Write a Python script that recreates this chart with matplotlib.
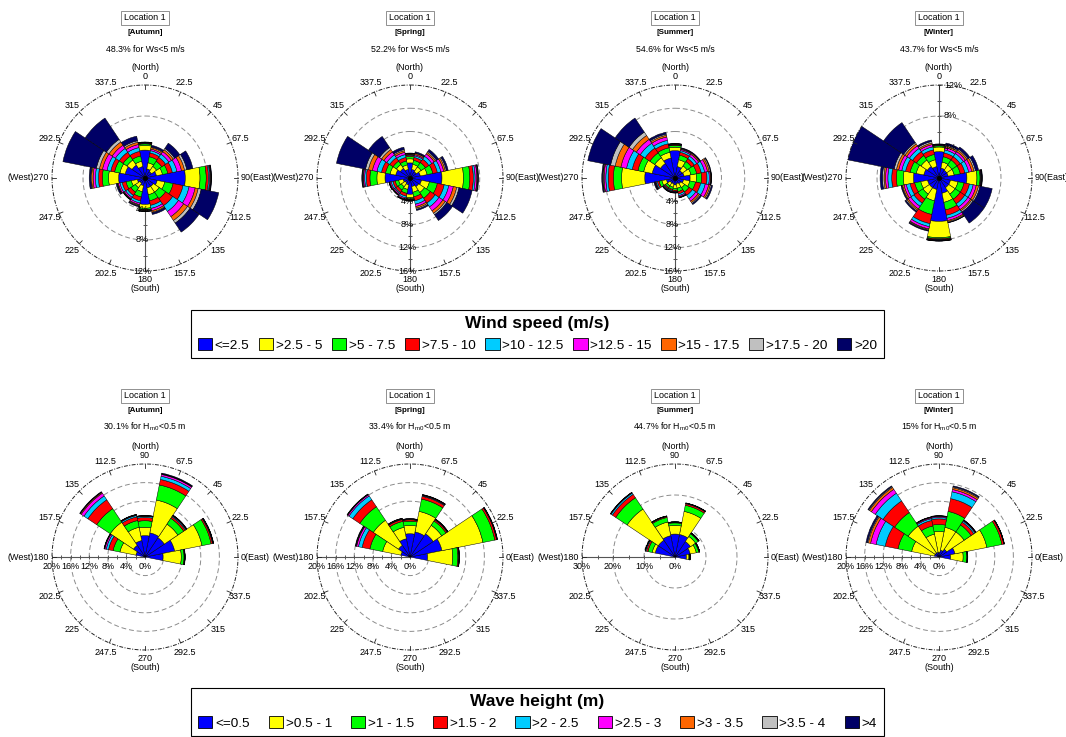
import numpy as np
import matplotlib
matplotlib.use("Agg")
import matplotlib.pyplot as plt
from matplotlib.patches import Patch
from matplotlib.transforms import offset_copy

plt.rcParams["font.family"] = ["Liberation Sans", "DejaVu Sans"]
plt.rcParams["mathtext.fontset"] = "custom"
plt.rcParams["mathtext.rm"] = "Liberation Sans"
plt.rcParams["mathtext.it"] = "Liberation Sans:italic"
plt.rcParams["mathtext.bf"] = "Liberation Sans:bold"

FIG_W, FIG_H = 1066, 737

# ---------------------------------------------------------------- data
LOCATION = "Location 1"
SEASONS = ["Autumn", "Spring", "Summer", "Winter"]

SPEED_CLASSES = ["<=2.5", ">2.5 - 5", ">5 - 7.5", ">7.5 - 10", ">10 - 12.5",
                 ">12.5 - 15", ">15 - 17.5", ">17.5 - 20", ">20"]
HEIGHT_CLASSES = ["<=0.5", ">0.5 - 1", ">1 - 1.5", ">1.5 - 2", ">2 - 2.5",
                  ">2.5 - 3", ">3 - 3.5", ">3.5 - 4", ">4"]
CLASS_COLORS = ["#0000FF", "#FFFF00", "#00FF00", "#FF0000", "#00CCFF",
                "#FF00FF", "#FF6600", "#C0C0C0", "#000066"]

WIND_CALM = ["48.3", "52.2", "54.6", "43.7"]      # % of time with Ws < 5 m/s
WAVE_CALM = ["30.1", "33.4", "44.7", "15"]        # % of time with Hm0 < 0.5 m

WIND_DIRECTIONS = [0, 22.5, 45, 67.5, 90, 112.5, 135, 157.5,
                   180, 202.5, 225, 247.5, 270, 292.5, 315, 337.5]
WAVE_DIRECTIONS = [0, 22.5, 45, 67.5, 90, 112.5, 135, 157.5]

# Cumulative frequency (%) per direction; columns follow the class order
WIND_AUTUMN = [
    [3.6, 4.2, 4.4, 4.45, 4.5, 4.55, 4.6, 4.62, 4.65],
    [1.2, 2.0, 2.8, 3.3, 3.6, 3.8, 4.0, 4.1, 4.3],
    [1.0, 1.8, 2.6, 3.2, 3.7, 4.1, 4.4, 4.6, 5.4],
    [1.5, 2.3, 3.0, 3.6, 4.2, 4.8, 5.2, 5.5, 6.3],
    [5.2, 7.1, 7.9, 8.2, 8.35, 8.45, 8.5, 8.55, 8.6],
    [1.6, 2.6, 3.7, 5.0, 5.8, 6.6, 7.0, 7.4, 9.7],
    [1.3, 2.2, 3.2, 4.3, 5.2, 6.0, 6.6, 7.0, 8.4],
    [1.3, 2.2, 3.0, 3.6, 4.0, 4.3, 4.5, 4.6, 4.8],
    [3.4, 3.9, 4.1, 4.15, 4.2, 4.22, 4.25, 4.3, 4.35],
    [1.0, 1.8, 2.5, 3.0, 3.3, 3.5, 3.6, 3.7, 3.8],
    [0.8, 1.5, 2.2, 2.7, 3.0, 3.2, 3.3, 3.35, 3.4],
    [1.0, 1.8, 2.5, 3.0, 3.3, 3.5, 3.6, 3.65, 3.8],
    [3.4, 4.7, 5.5, 6.0, 6.4, 6.7, 6.9, 7.0, 7.2],
    [2.6, 3.3, 4.0, 4.5, 5.0, 5.6, 6.0, 6.4, 10.8],
    [2.0, 2.8, 3.4, 4.0, 4.6, 5.1, 5.6, 6.0, 9.3],
    [1.5, 2.2, 2.9, 3.5, 4.0, 4.4, 4.7, 4.9, 5.5],
]
WIND_SPRING = [
    [2.6, 3.3, 3.7, 3.9, 4.0, 4.1, 4.2, 4.25, 4.3],
    [1.5, 2.4, 3.1, 3.6, 3.9, 4.1, 4.3, 4.4, 4.6],
    [1.3, 2.3, 3.2, 3.9, 4.5, 5.0, 5.3, 5.5, 5.9],
    [1.8, 3.0, 4.0, 4.8, 5.4, 5.9, 6.2, 6.4, 6.7],
    [5.5, 9.2, 10.3, 10.9, 11.2, 11.5, 11.6, 11.7, 11.8],
    [2.0, 3.4, 4.8, 6.0, 6.8, 7.6, 8.2, 8.6, 10.9],
    [1.8, 3.0, 4.2, 5.2, 6.0, 6.8, 7.3, 7.6, 8.8],
    [1.5, 2.5, 3.3, 4.0, 4.6, 5.0, 5.3, 5.5, 5.7],
    [2.8, 3.4, 3.6, 3.7, 3.75, 3.8, 3.85, 3.9, 3.95],
    [1.2, 2.0, 2.7, 3.2, 3.5, 3.7, 3.8, 3.85, 3.9],
    [1.0, 1.8, 2.5, 3.0, 3.2, 3.4, 3.5, 3.55, 3.6],
    [1.2, 2.0, 2.6, 3.0, 3.3, 3.5, 3.6, 3.65, 3.7],
    [4.3, 5.7, 6.9, 7.5, 7.8, 8.0, 8.1, 8.2, 8.3],
    [2.5, 3.5, 4.3, 5.0, 5.8, 6.6, 7.3, 7.8, 12.9],
    [2.0, 2.8, 3.5, 4.2, 4.8, 5.4, 5.9, 6.3, 8.6],
    [1.5, 2.3, 3.0, 3.6, 4.1, 4.5, 4.8, 5.0, 5.4],
]
WIND_SUMMER = [
    [4.7, 5.3, 5.6, 5.7, 5.75, 5.8, 5.85, 5.9, 5.95],
    [2.0, 3.2, 4.0, 4.5, 4.8, 5.0, 5.1, 5.2, 5.3],
    [1.5, 2.5, 3.4, 4.0, 4.5, 4.9, 5.1, 5.2, 5.3],
    [1.6, 2.8, 3.8, 4.6, 5.2, 5.7, 6.0, 6.2, 6.3],
    [2.6, 3.7, 4.6, 5.5, 5.9, 6.1, 6.2, 6.25, 6.3],
    [1.5, 2.6, 3.6, 4.5, 5.3, 5.9, 6.2, 6.4, 6.6],
    [1.2, 2.0, 2.9, 3.6, 4.3, 4.8, 5.1, 5.3, 5.5],
    [1.0, 1.8, 2.4, 2.8, 3.1, 3.3, 3.4, 3.45, 3.5],
    [1.2, 1.8, 2.1, 2.3, 2.4, 2.45, 2.5, 2.55, 2.6],
    [1.0, 1.6, 2.0, 2.2, 2.35, 2.45, 2.5, 2.55, 2.6],
    [1.0, 1.6, 2.0, 2.2, 2.35, 2.45, 2.5, 2.55, 2.6],
    [1.5, 2.3, 2.8, 3.1, 3.3, 3.4, 3.5, 3.55, 3.7],
    [5.2, 9.2, 10.6, 11.5, 11.9, 12.2, 12.35, 12.45, 12.6],
    [4.0, 5.5, 6.5, 7.5, 8.5, 9.5, 10.5, 11.3, 15.3],
    [3.0, 4.2, 5.2, 6.2, 7.2, 8.0, 8.8, 9.5, 12.4],
    [3.5, 4.5, 5.3, 6.0, 6.6, 7.2, 7.5, 7.7, 8.0],
]
WIND_WINTER = [
    [3.4, 4.0, 4.15, 4.2, 4.25, 4.3, 4.32, 4.35, 4.4],
    [1.3, 2.1, 2.8, 3.3, 3.7, 4.0, 4.2, 4.35, 4.6],
    [1.2, 2.0, 2.8, 3.3, 3.8, 4.1, 4.35, 4.5, 4.8],
    [1.2, 2.0, 2.8, 3.4, 3.9, 4.3, 4.6, 4.8, 5.2],
    [3.6, 4.9, 5.3, 5.4, 5.45, 5.5, 5.52, 5.55, 5.6],
    [1.5, 2.5, 3.3, 4.0, 4.5, 4.9, 5.2, 5.4, 7.0],
    [1.5, 2.5, 3.3, 4.0, 4.5, 4.9, 5.1, 5.3, 7.0],
    [2.0, 3.2, 4.2, 4.9, 5.3, 5.6, 5.75, 5.85, 5.9],
    [5.6, 7.7, 7.85, 7.95, 8.0, 8.05, 8.1, 8.12, 8.15],
    [1.5, 3.0, 4.8, 6.0, 6.4, 6.7, 6.8, 6.9, 7.0],
    [1.5, 2.5, 3.3, 3.9, 4.4, 4.8, 5.0, 5.15, 5.3],
    [1.5, 2.4, 3.2, 3.8, 4.3, 4.6, 4.8, 4.9, 5.0],
    [3.3, 4.6, 5.5, 6.1, 6.6, 6.9, 7.1, 7.3, 7.6],
    [2.0, 3.0, 3.8, 4.4, 4.9, 5.3, 5.6, 5.9, 12.0],
    [1.8, 2.8, 3.5, 4.1, 4.6, 5.0, 5.3, 5.5, 8.6],
    [1.5, 2.4, 3.1, 3.7, 4.1, 4.4, 4.6, 4.8, 5.0],
]

WAVE_AUTUMN = [
    [3.9, 7.8, 8.4, 8.5, 8.55, 8.6, 8.6, 8.6, 8.65],
    [6.5, 12.5, 14.5, 14.8, 14.9, 14.95, 15.0, 15.0, 15.05],
    [5.0, 8.5, 10.0, 10.4, 10.6, 10.7, 10.75, 10.8, 10.85],
    [5.3, 12.5, 15.8, 17.0, 17.7, 18.1, 18.2, 18.25, 18.4],
    [4.6, 6.4, 7.8, 8.5, 8.75, 8.8, 8.85, 8.9, 8.95],
    [3.6, 6.5, 8.0, 8.8, 9.1, 9.2, 9.25, 9.3, 9.35],
    [3.0, 9.0, 12.5, 14.8, 15.8, 16.5, 16.7, 16.8, 16.9],
    [2.0, 5.5, 7.0, 8.0, 8.5, 8.8, 8.9, 8.95, 9.0],
]
WAVE_SPRING = [
    [3.8, 9.2, 10.3, 10.5, 10.55, 10.6, 10.6, 10.6, 10.65],
    [7.0, 16.0, 18.6, 19.0, 19.05, 19.1, 19.1, 19.15, 19.2],
    [6.0, 8.2, 9.3, 9.6, 9.7, 9.75, 9.8, 9.8, 9.85],
    [5.5, 10.0, 12.7, 13.3, 13.45, 13.55, 13.6, 13.65, 13.7],
    [5.0, 6.8, 7.7, 8.0, 8.05, 8.1, 8.15, 8.2, 8.25],
    [4.0, 6.5, 7.8, 8.2, 8.3, 8.35, 8.4, 8.45, 8.5],
    [3.0, 9.5, 13.0, 14.8, 15.8, 16.1, 16.2, 16.25, 16.3],
    [2.0, 6.0, 8.8, 10.5, 11.3, 11.7, 11.8, 11.9, 12.0],
]
WAVE_SUMMER = [
    [3.7, 4.5, 4.8, 4.85, 4.9, 4.9, 4.9, 4.9, 4.95],
    [5.0, 7.0, 7.8, 8.0, 8.05, 8.1, 8.1, 8.1, 8.15],
    [6.0, 8.0, 9.0, 9.2, 9.3, 9.3, 9.3, 9.35, 9.4],
    [7.4, 15.0, 17.0, 17.5, 17.65, 17.7, 17.7, 17.75, 17.8],
    [7.4, 10.2, 11.0, 11.2, 11.25, 11.3, 11.3, 11.3, 11.35],
    [7.0, 11.5, 13.0, 13.3, 13.4, 13.45, 13.45, 13.5, 13.5],
    [6.5, 18.6, 23.0, 24.3, 24.8, 24.95, 25.0, 25.05, 25.1],
    [6.5, 7.5, 8.9, 9.4, 9.7, 9.75, 9.8, 9.8, 9.85],
]
WAVE_WINTER = [
    [2.5, 5.2, 6.0, 6.05, 6.1, 6.1, 6.1, 6.15, 6.2],
    [3.5, 10.5, 13.8, 14.2, 14.25, 14.3, 14.3, 14.3, 14.35],
    [2.0, 6.5, 8.3, 9.0, 9.3, 9.45, 9.5, 9.55, 9.6],
    [1.5, 6.5, 10.0, 12.8, 14.3, 14.8, 15.2, 15.4, 15.6],
    [1.0, 5.5, 7.0, 8.2, 8.5, 8.7, 8.8, 8.85, 8.9],
    [1.0, 5.0, 6.8, 8.0, 8.4, 8.6, 8.7, 8.75, 8.8],
    [1.0, 8.0, 11.5, 14.5, 16.5, 17.5, 18.0, 18.2, 18.4],
    [1.0, 6.0, 9.0, 11.8, 13.8, 15.0, 15.5, 15.7, 16.0],
]

WIND_TABLES = [WIND_AUTUMN, WIND_SPRING, WIND_SUMMER, WIND_WINTER]
WAVE_TABLES = [WAVE_AUTUMN, WAVE_SPRING, WAVE_SUMMER, WAVE_WINTER]

WIND_RMAX = [12, 16, 16, 12]
WAVE_RMAX = [20, 20, 30, 20]

# ---------------------------------------------------------------- layout
CENTERS_X = [145, 410, 675, 939]
WIND_CY, WAVE_CY = 178, 557
R_PX = 93
LABEL_FS = 6.5

fig = plt.figure(figsize=(FIG_W / 100, FIG_H / 100), dpi=100)
fig.patch.set_facecolor("white")


def fx(x):
    return x / FIG_W


def fy(y):
    return 1 - y / FIG_H


def polar_axes(cx, cy, zero, sense, rmax):
    ax = fig.add_axes([fx(cx - R_PX), fy(cy + R_PX), 2 * R_PX / FIG_W, 2 * R_PX / FIG_H],
                      projection="polar")
    ax.set_theta_zero_location(zero)
    ax.set_theta_direction(sense)
    ax.set_ylim(0, rmax)
    ax.set_axis_off()
    return ax


def stacked_bars(ax, dirs, table):
    theta = np.deg2rad(dirs)
    cum = np.asarray(table, dtype=float)
    base = np.hstack([np.zeros((cum.shape[0], 1)), cum[:, :-1]])
    for k, color in enumerate(CLASS_COLORS):
        ax.bar(theta, cum[:, k] - base[:, k], width=np.deg2rad(22.5), bottom=base[:, k],
               color=color, edgecolor="black", linewidth=0.35, zorder=3)


def grid_circles(ax, rmax, inner):
    t = np.linspace(0, 2 * np.pi, 400)
    for r in inner:
        ax.plot(t, np.full_like(t, r), color="#8c8c8c", lw=0.7, ls=(0, (5, 3)), zorder=1)
    ax.plot(t, np.full_like(t, rmax), color="#222222", lw=0.7,
            ls=(0, (4, 1.5, 1, 1.5)), zorder=4, clip_on=False)
    for a in np.arange(16) * 22.5:
        th = np.deg2rad(a)
        ax.plot([th, th], [rmax * 0.955, rmax], color="#222222", lw=0.6,
                clip_on=False, zorder=4)


def direction_labels(ax, rmax, texts, compass):
    for a, txt in texts:
        th = np.deg2rad(a)
        c = compass(a) % 360
        if c == 0:
            ax.text(th, rmax * 1.04, txt, ha="center", va="bottom", fontsize=LABEL_FS,
                    linespacing=1.0)
        elif c == 180:
            ax.text(th, rmax * 1.04, txt, ha="center", va="top", fontsize=LABEL_FS,
                    linespacing=1.0)
        elif c == 90:
            ax.text(th, rmax * 1.03, txt, ha="left", va="center", fontsize=LABEL_FS)
        elif c == 270:
            ax.text(th, rmax * 1.03, txt, ha="right", va="center", fontsize=LABEL_FS)
        else:
            ax.text(th, rmax * 1.11, txt, ha="center", va="center", fontsize=LABEL_FS)


def radial_axis(ax, angle, rmax, marks, label_pos, marker, dx, dy, ha, va):
    th = np.deg2rad(angle)
    ax.plot([th, th], [0, rmax], color="#555555", lw=0.8, zorder=2)
    ticks = np.arange(0, rmax + 1e-9, marks)
    ax.plot(np.full(len(ticks), th), ticks, ls="none", marker=marker, ms=3,
            mew=0.7, color="#555555", zorder=2)
    tr = offset_copy(ax.transData, fig=fig, x=dx, y=dy, units="dots")
    for r in label_pos:
        ax.text(th, r, f"{r:g}%", transform=tr, ha=ha, va=va, fontsize=LABEL_FS, zorder=6)


def headings(cx, top, season, calm):
    fig.text(fx(cx), fy(top), LOCATION, ha="center", va="center", fontsize=6.5,
             bbox=dict(boxstyle="square,pad=0.3", fc="white", ec="#7f7f7f", lw=0.6))
    fig.text(fx(cx), fy(top + 15), f"[{season}]", ha="center", va="center",
             fontsize=5.8, weight="bold")
    fig.text(fx(cx), fy(top + 31), calm, ha="center", va="center", fontsize=6.3)


def fmt(a):
    return f"{a:g}"


# ---------------------------------------------------------------- wind roses
wind_cardinal = {0: "(North)\n0", 90: "90(East)", 180: "180\n(South)", 270: "(West)270"}
wind_texts = [(a, wind_cardinal.get(a, fmt(a))) for a in np.arange(16) * 22.5]

for i, season in enumerate(SEASONS):
    cx = CENTERS_X[i]
    rmax = WIND_RMAX[i]
    ax = polar_axes(cx, WIND_CY, "N", -1, rmax)
    inner = list(range(4, rmax, 4))
    grid_circles(ax, rmax, inner)
    labels_at = list(range(4, rmax + 1, 4))
    if season == "Winter":
        radial_axis(ax, 0, rmax, 2, labels_at, "_", 5, 0, "left", "center")
    else:
        radial_axis(ax, 180, rmax, 2, labels_at, "_", -3, 0, "center", "center")
    stacked_bars(ax, WIND_DIRECTIONS, WIND_TABLES[i])
    ax.plot([0], [0], marker="o", ms=2.5, color="black", zorder=7)
    direction_labels(ax, rmax, wind_texts, lambda a: a)
    headings(cx, 18, season, f"{WIND_CALM[i]}% for Ws<5 m/s")

# ---------------------------------------------------------------- wave roses
wave_cardinal = {90: "(North)\n90", 0: "0(East)", 180: "(West)180", 270: "270\n(South)"}
wave_texts = [(a, wave_cardinal.get(a, fmt(a))) for a in np.arange(16) * 22.5]

for i, season in enumerate(SEASONS):
    cx = CENTERS_X[i]
    rmax = WAVE_RMAX[i]
    step = 10 if rmax == 30 else 4
    ax = polar_axes(cx, WAVE_CY, "E", 1, rmax)
    grid_circles(ax, rmax, list(range(step, rmax, step)))
    radial_axis(ax, 180, rmax, step / 2, list(range(0, rmax + 1, step)), "|",
                0, -5, "center", "top")
    stacked_bars(ax, WAVE_DIRECTIONS, WAVE_TABLES[i])
    direction_labels(ax, rmax, wave_texts, lambda a: 90 - a)
    headings(cx, 396, season, f"{WAVE_CALM[i]}% for H$_{{\\mathrm{{m0}}}}$<0.5 m")

# ---------------------------------------------------------------- legends
def class_legend(title, labels, cy, colspace):
    handles = [Patch(facecolor=c, edgecolor="black", linewidth=0.6) for c in CLASS_COLORS]
    leg = fig.legend(handles, labels, loc="center", bbox_to_anchor=(fx(537.5), fy(cy)),
                     ncol=9, frameon=True, fancybox=False, framealpha=1,
                     edgecolor="black", title=title,
                     title_fontproperties={"weight": "bold", "size": 12.5},
                     prop={"size": 9.7},
                     handlelength=1.05, handleheight=0.95, handletextpad=0.2,
                     columnspacing=colspace, borderpad=0.5, borderaxespad=0)
    leg.get_frame().set_linewidth(0.8)
    return leg


class_legend("Wind speed (m/s)", SPEED_CLASSES, 334, 0.72)
class_legend("Wave height (m)", HEIGHT_CLASSES, 712, 1.42)

fig.savefig("out.png", dpi=100)
